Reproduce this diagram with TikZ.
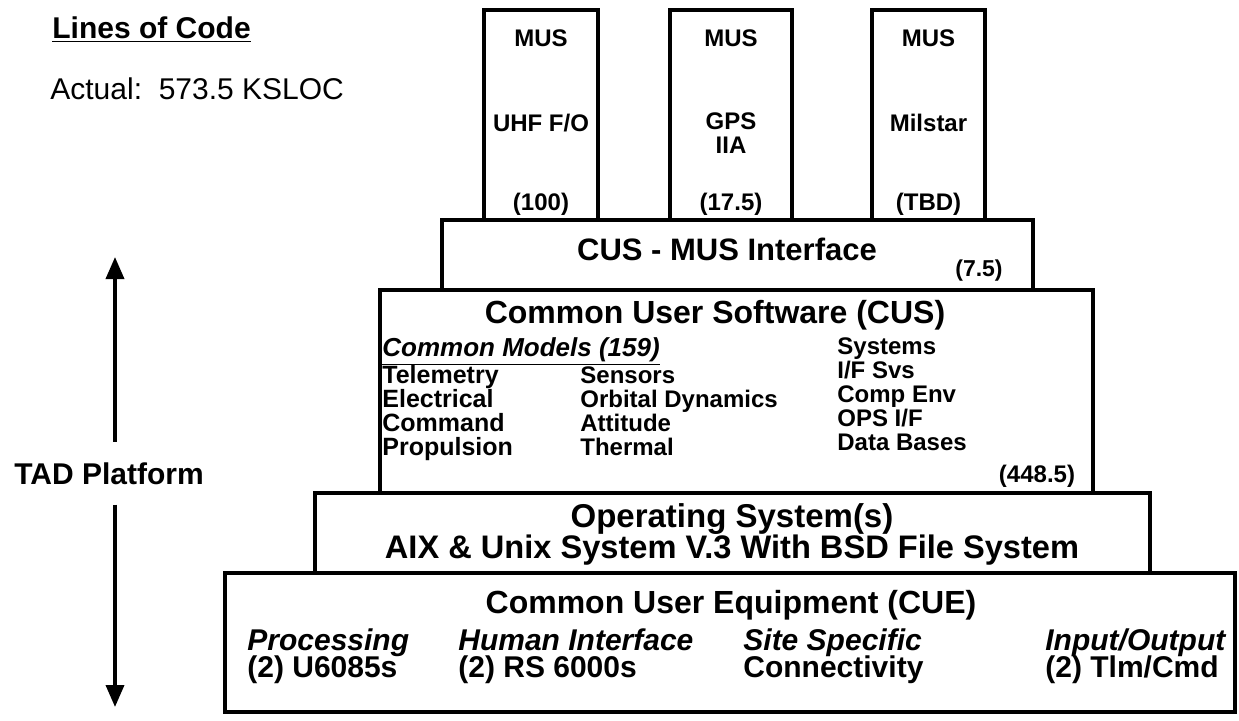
\documentclass[tikz,border=0pt]{standalone}
\usepackage{fontspec}
\setmainfont{Liberation Sans}
\usetikzlibrary{arrows.meta}
\newcommand{\fsz}[1]{\fontsize{#1}{#1}\selectfont}

\begin{document}
\begin{tikzpicture}[x=0.5pt, y=-0.5pt,
    layer/.style={draw, line width=1.6pt},
    txt/.style={inner sep=0pt, anchor=base, font=\bfseries\fsz{#1}},
    txt/.default=15,
    item/.style={inner sep=0pt, anchor=base west, font=\bfseries\fsz{#1}},
    item/.default=12,
    platarrow/.style={line width=1.8pt, -{Triangle[width=9pt, length=11pt]}}]
  \useasboundingbox (0,0) rectangle (1239,720);

  % legend
  \node[item=15] (loc) at (52,38) {\underline{Lines of Code}};
  \node[item, font=\fsz{15}] (actual) at (50,99) {Actual:\ \ 573.5 KSLOC};

  % platform arrow
  \node[txt] (tad) at (109,484) {TAD Platform};
  \coordinate (uptip) at (115,257);
  \coordinate (dntip) at (115,707);
  \draw[platarrow, shorten <=10pt] (tad.north -| uptip) -- (uptip);
  \draw[platarrow, shorten <=10pt] (tad.south -| uptip) -- (dntip);

  % mission unique software
  \foreach \xa/\xb/\nm/\my/\mid/\kloc in {484/598/uhf/123/{UHF F/O}/(100), 670/792/gps/133/{GPS\\IIA}/(17.5), 872/985/mil/123/Milstar/(TBD)} {
    \draw[layer] (\xa,10) rectangle (\xb,220);
    \node[txt=12] (\nm-top) at ({(\xa+\xb)/2},46) {MUS};
    \node[txt=12, anchor=center, align=center] (\nm-mid) at ({(\xa+\xb)/2},\my) {\mid};
    \node[txt=12] (\nm-num) at ({(\xa+\xb)/2},210) {\kloc};
  }

  % CUS - MUS interface
  \draw[layer] (442,220) rectangle (1033,290);
  \node[txt=15.5] (ifc) at (727,260) {CUS - MUS Interface};
  \node[txt=11.5] (ifc-num) at (979,276) {(7.5)};

  % common user software
  \draw[layer] (380,290) rectangle (1093,493);
  \node[txt=16] (cus) at (715,323) {Common User Software (CUS)};
  \node[item, font=\bfseries\itshape\fsz{13}] (models) at (382,356) {\underline{Common Models (159)}};
  \foreach \y/\a/\b [count=\i] in {383/Telemetry/Sensors, 407/Electrical/Orbital Dynamics, 431/Command/Attitude, 455/Propulsion/Thermal} {
    \node[item=12.5] (mod-a\i) at (382,\y) {\a};
    \node[item] (mod-b\i) at (580,\y) {\b};
  }
  \foreach \y/\s [count=\i] in {354/Systems, 378/{I/F Svs}, 402/Comp Env, 426/{OPS I/F}, 450/Data Bases}
    \node[item] (sys\i) at (837,\y) {\s};
  \node[txt=12] (cus-num) at (1037,482) {(448.5)};

  % operating systems
  \draw[layer] (315,493) rectangle (1150,573);
  \node[txt=16.5] (os) at (732,527) {Operating System(s)};
  \node[txt=16.3] (os-det) at (732,558) {AIX \& Unix System V.3 With BSD File System};

  % common user equipment
  \draw[layer] (225,573) rectangle (1235,712);
  \node[txt=16] (cue) at (731,613) {Common User Equipment (CUE)};
  \foreach \x/\a/\b [count=\i] in {247/Processing/{(2) U6085s}, 458/Human Interface/{(2) RS 6000s}, 743/Site Specific/Connectivity, 1045/{Input/Output}/{(2) Tlm/Cmd}} {
    \node[item, font=\bfseries\itshape\fsz{15}] (hw-a\i) at (\x,650) {\a};
    \node[item=15] (hw-b\i) at (\x,677) {\b};
  }
\end{tikzpicture}
\end{document}
